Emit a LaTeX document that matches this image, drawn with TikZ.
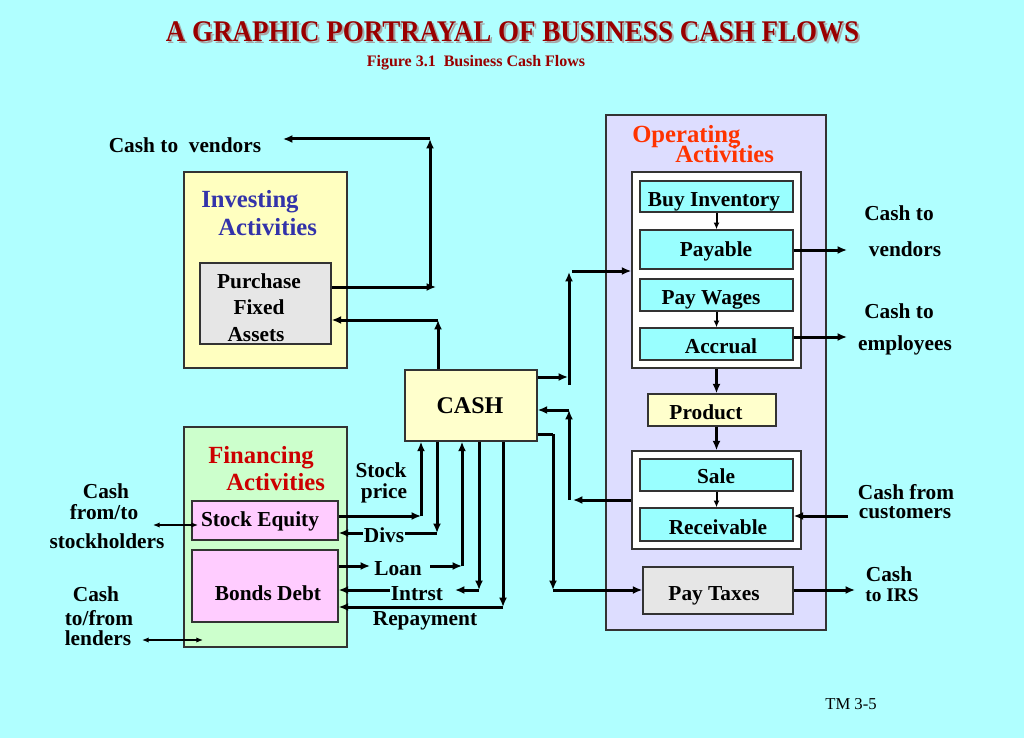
\documentclass[tikz,border=0pt]{standalone}
\usepackage{fontspec}
\setmainfont{Liberation Serif}
\usetikzlibrary{arrows.meta,fit}
\definecolor{bgc}{HTML}{B0FFFF}
\definecolor{opc}{HTML}{99FFFF}
\definecolor{invc}{HTML}{FFFFC0}
\definecolor{cashc}{HTML}{FFFFCC}
\definecolor{finc}{HTML}{CCFFCC}
\definecolor{pinkc}{HTML}{FFCCFF}
\definecolor{lavc}{HTML}{DDDDFF}
\definecolor{grayc}{HTML}{E6E6E6}
\definecolor{edgec}{HTML}{333333}
\definecolor{invtxt}{HTML}{3333AA}
\definecolor{fintxt}{HTML}{CC0000}
\definecolor{optxt}{HTML}{FF3300}
\definecolor{titc}{HTML}{990000}
\begin{document}
\begin{tikzpicture}[x=0.75pt,y=-0.75pt,
  box/.style={draw=edgec,line width=1.1pt,inner sep=0pt},
  arr/.style={line width=2.25pt,-{Latex[length=7pt,width=6pt]}},
  sarr/.style={line width=1.5pt,-{Latex[length=5pt,width=4.5pt]}},
  dbl/.style={line width=0.9pt,{Latex[length=5pt,width=4pt]}-{Latex[length=5pt,width=4pt]}},
  lbl/.style={font=\fontsize{16}{19.5}\selectfont\bfseries,inner sep=0pt,anchor=base},
  head/.style={font=\fontsize{18.5}{22}\selectfont\bfseries,inner sep=0pt,anchor=base west},
  onl/.style={lbl,fill=bgc,inner xsep=1pt,inner ysep=1pt}]
\useasboundingbox (0,0) rectangle (1024,738);
\fill[bgc] (0,0) rectangle (1024,738);

% title
\node[font=\fontsize{22.5}{26}\selectfont\bfseries,text=gray!70,inner sep=0pt,anchor=base] (titsh) at (514.5,44) {\scalebox{0.9}[1]{A GRAPHIC PORTRAYAL OF BUSINESS CASH FLOWS}};
\node[font=\fontsize{22.5}{26}\selectfont\bfseries,text=titc,inner sep=0pt,anchor=base] (title) at (512.5,42) {\scalebox{0.9}[1]{A GRAPHIC PORTRAYAL OF BUSINESS CASH FLOWS}};
\node[font=\fontsize{12}{14}\selectfont\bfseries,text=titc,inner sep=0pt,anchor=base] (sub) at (476,67) {Figure 3.1~~Business Cash Flows};

% boxes
\node[box,fill=invc,fit={(184,172)(347,368)}] (inv) {};
\node[box,fill=grayc,fit={(200,263)(331,344)}] (pfa) {};
\node[box,fill=cashc,fit={(405,370)(537,441)}] (cash) {};
\node[box,fill=finc,fit={(184,427)(347,647)}] (fin) {};
\node[box,fill=pinkc,fit={(192,501)(338,540)}] (se) {};
\node[box,fill=pinkc,fit={(192,550)(338,622)}] (bd) {};
\node[box,fill=lavc,fit={(606,115)(826,630)}] (op) {};
\node[box,fill=white,fit={(632,172)(801,368)}] (w1) {};
\node[box,fill=opc,fit={(640,181)(793,212)}] (bi) {};
\node[box,fill=opc,fit={(640,230)(793,269)}] (pay) {};
\node[box,fill=opc,fit={(640,279)(793,311)}] (pw) {};
\node[box,fill=opc,fit={(640,328)(793,360)}] (acc) {};
\node[box,fill=cashc,fit={(648,394)(776,426)}] (prod) {};
\node[box,fill=white,fit={(632,451)(801,549)}] (w2) {};
\node[box,fill=opc,fit={(640,459)(793,491)}] (sale) {};
\node[box,fill=opc,fit={(640,508)(793,541)}] (rec) {};
\node[box,fill=grayc,fit={(643,567)(793,614)}] (tax) {};

% headings
\node[head,text=invtxt] (invh1) at (201,207) {Investing};
\node[head,text=invtxt] (invh2) at (218,235) {Activities};
\node[head,text=fintxt] (finh1) at (208,463) {Financing};
\node[head,text=fintxt] (finh2) at (226,490) {Activities};
\node[head,text=optxt] (oph1) at (632,143) {Operating};
\node[head,text=optxt] (oph2) at (675,162) {Activities};

% box texts
\node[lbl] (pf1) at (259,288) {Purchase};
\node[lbl] (pf2) at (259,314) {Fixed};
\node[lbl] (pf3) at (256,341) {Assets};
\node[font=\fontsize{18}{22}\selectfont\bfseries,inner sep=0pt,anchor=base] (cashl) at (470,413) {CASH};
\node[lbl] (sel) at (260,526) {Stock Equity};
\node[lbl] (bdl) at (268,600) {Bonds Debt};
\node[lbl] (bil) at (714,206) {Buy Inventory};
\node[lbl] (payl) at (716,256) {Payable};
\node[lbl] (pwl) at (711,304) {Pay Wages};
\node[lbl] (accl) at (721,353) {Accrual};
\node[lbl] (prodl) at (706,419) {Product};
\node[lbl] (salel) at (716,483) {Sale};
\node[lbl] (recl) at (718,534) {Receivable};
\node[lbl] (taxl) at (714,600) {Pay Taxes};

% outside labels
\node[lbl] (ctv) at (185,152) {Cash to~~vendors};
\node[lbl] (sh1) at (106,498) {Cash};
\node[lbl] (sh2) at (104,519) {from/to};
\node[lbl] (sh3) at (107,548) {stockholders};
\node[lbl] (ln1) at (96,601) {Cash};
\node[lbl] (ln2) at (99,625) {to/from};
\node[lbl] (ln3) at (98,645) {lenders};
\node[lbl] (sp1) at (381,477) {Stock};
\node[lbl] (sp2) at (384,498) {price};
\node[lbl] (loanl) at (398,575) {Loan};
\node[lbl] (intl) at (417,600) {Intrst};
\node[lbl] (repl) at (425,625) {Repayment};
\node[lbl] (rv1) at (899,220) {Cash to};
\node[lbl] (rv2) at (905,256) {vendors};
\node[lbl] (re1) at (899,318) {Cash to};
\node[lbl] (re2) at (905,350) {employees};
\node[lbl] (rc1) at (906,499) {Cash from};
\node[lbl] (rc2) at (905,518) {customers};
\node[lbl] (ri1) at (889,581) {Cash};
\node[lbl,font=\fontsize{14.5}{17}\selectfont\bfseries] (ri2) at (892,601) {to IRS};
\node[font=\fontsize{12.5}{15}\selectfont,inner sep=0pt,anchor=base] (tm) at (851,709) {TM 3-5};

% coordinates
\coordinate (j1) at (436,287);
\coordinate (j2) at (430,287);
\coordinate (j3) at (430,139);
\coordinate (v1) at (283,139);
\coordinate (j4) at (438,320);
\coordinate (k1) at (421,516);
\coordinate (k2) at (437,533);
\coordinate (k3a) at (370,566);
\coordinate (k3b) at (430,566);
\coordinate (k3) at (462,566);
\coordinate (k4) at (479,590);
\coordinate (k4a) at (455,590);
\coordinate (k4b) at (390,590);
\coordinate (k5) at (503,607);
\coordinate (m1) at (568,377);
\coordinate (m2) at (569,385);
\coordinate (m3) at (569,272);
\coordinate (m4) at (572,271);
\coordinate (n1) at (573,500);
\coordinate (n2) at (569,500);
\coordinate (n3) at (569,410);
\coordinate (p1) at (553,434);
\coordinate (p2) at (553,590);
\coordinate (q1) at (847,250);
\coordinate (q2) at (847,337);
\coordinate (q3) at (848,516);
\coordinate (q4) at (855,590);
\coordinate (s1) at (153,525);
\coordinate (s2) at (198,525);
\coordinate (t1) at (142,640);
\coordinate (t2) at (203,640);

% investing connectors
\draw[arr] (pfa.east |- j1) -- (j1);
\draw[arr] (j2) -- (j3);
\draw[arr] (j3) -- (v1);
\draw[arr] (cash.north -| j4) -- (j4);
\draw[arr] (j4) -- (pfa.east |- j4);

% financing connectors
\draw[arr] (se.east |- k1) -- (k1);
\draw[arr] (k1) -- (cash.south -| k1);
\draw[arr] (cash.south -| k2) -- (k2);
\draw[arr] (k2) -- (se.east |- k2);
\node[onl] (divl) at (384,542) {Divs};
\draw[arr] (bd.east |- k3a) -- (k3a);
\draw[arr] (k3b) -- (k3);
\draw[arr] (k3) -- (cash.south -| k3);
\draw[arr] (cash.south -| k4) -- (k4);
\draw[arr] (k4) -- (k4a);
\draw[arr] (k4b) -- (bd.east |- k4);
\draw[arr] (cash.south -| k5) -- (k5);
\draw[arr] (k5) -- (bd.east |- k5);

% operating connectors
\draw[arr] (cash.east |- m1) -- (m1);
\draw[arr] (m2) -- (m3);
\draw[arr] (m4) -- (w1.west |- m4);
\draw[arr] (w2.west |- n1) -- (n1);
\draw[arr] (n2) -- (n3);
\draw[arr] (n3) -- (cash.east |- n3);
\draw[line width=2.25pt] (cash.east |- p1) -- (p1);
\draw[arr] (p1) -- (p2);
\draw[arr] (p2) -- (tax.west |- p2);

\draw[sarr] (bi.south) -- (pay.north);
\draw[sarr] (pw.south) -- (acc.north);
\draw[arr] (w1.south) -- (w1.south |- prod.north);
\draw[arr] (w1.south |- prod.south) -- (w2.north);
\draw[sarr] (sale.south) -- (rec.north);

\draw[arr] (pay.east |- q1) -- (q1);
\draw[arr] (acc.east |- q2) -- (q2);
\draw[arr] (q3) -- (rec.east |- q3);
\draw[arr] (tax.east |- q4) -- (q4);

\draw[dbl] (s1) -- (s2);
\draw[dbl] (t1) -- (t2);
\end{tikzpicture}
\end{document}
